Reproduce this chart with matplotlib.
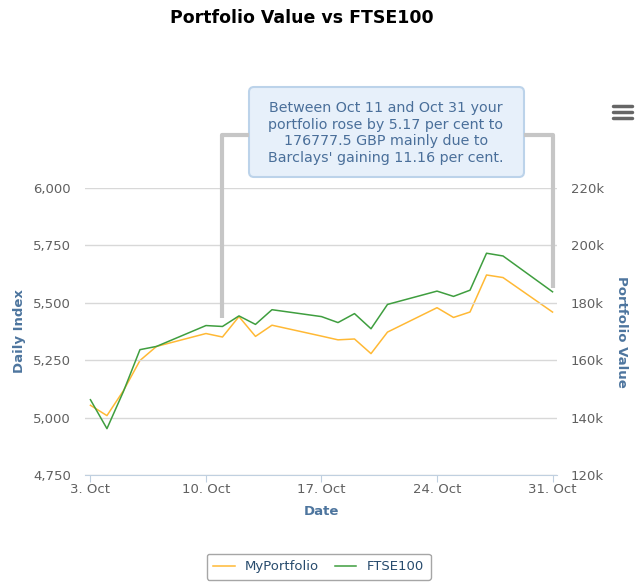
import matplotlib
matplotlib.use("Agg")
import matplotlib.pyplot as plt
import matplotlib.ticker as mticker
from matplotlib.patches import FancyBboxPatch
from matplotlib.lines import Line2D
from matplotlib.transforms import IdentityTransform

# trading days in October (day of month)
days = [3, 4, 5, 6, 7, 10, 11, 12, 13, 14, 17, 18, 19, 20, 21, 24, 25, 26, 27, 28, 31]
ftse = [5078, 4952, 5114, 5296, 5310, 5401, 5397, 5443, 5406, 5470, 5440,
        5414, 5453, 5387, 5493, 5551, 5528, 5555, 5716, 5704, 5548]
portfolio = [144300, 140700, 149400, 159900, 164800, 169300, 168087, 175200,
             168300, 172200, 168400, 167100, 167400, 162300, 169800, 178300,
             174900, 176800, 189700, 188800, 176777.5]
tick_days = [3, 10, 17, 24, 31]
tick_labels = ["3. Oct", "10. Oct", "17. Oct", "24. Oct", "31. Oct"]
note = ("Between Oct 11 and Oct 31 your\nportfolio rose by 5.17 per cent to\n"
        "176777.5 GBP mainly due to\nBarclays' gaining 11.16 per cent.")

orange = "#ffb935"
green = "#3f9e3f"
blue = "#4d759e"
gray_txt = "#606060"

fig = plt.figure(figsize=(6.4, 5.85), dpi=100)
ax = fig.add_axes([0.1328, 0.188, 0.7375, 0.4906])
ax2 = ax.twinx()

l1, = ax2.plot(days, portfolio, color=orange, lw=1.1, label="MyPortfolio")
l2, = ax.plot(days, ftse, color=green, lw=1.1, label="FTSE100")
ax.set_zorder(ax2.get_zorder() + 1)
ax.patch.set_visible(False)

ax.set_xlim(2.67, 31.27)
ax.set_ylim(4750, 6000)
ax2.set_ylim(120000, 220000)
ax.set_yticks(range(4750, 6001, 250))
ax2.set_yticks(range(120000, 220001, 20000))
ax.yaxis.set_major_formatter(mticker.FuncFormatter(lambda v, p: f"{int(v):,}"))
ax2.yaxis.set_major_formatter(mticker.FuncFormatter(lambda v, p: f"{int(v / 1000)}k"))
ax.set_xticks(tick_days)
ax.set_xticklabels(tick_labels)

ax.grid(axis="y", color="#d8d8d8", lw=1)
for a in (ax, ax2):
    for s in a.spines.values():
        s.set_visible(False)
ax.spines["bottom"].set_visible(True)
ax.spines["bottom"].set_color("#c0d0e0")
ax.tick_params(axis="x", colors="#c0d0e0", length=5, labelcolor=gray_txt, labelsize=9.5, pad=1)
ax.tick_params(axis="y", length=0, labelcolor=gray_txt, labelsize=9.5, pad=10)
ax2.tick_params(axis="y", length=0, labelcolor=gray_txt, labelsize=9.5, pad=10)

ax.set_ylabel("Daily Index", color=blue, fontsize=9.5, fontweight="bold", labelpad=5)
ax2.set_ylabel("Portfolio Value", color=blue, fontsize=9.5, fontweight="bold",
               rotation=270, labelpad=17)
ax.set_xlabel("Date", color=blue, fontsize=9.5, fontweight="bold", labelpad=6)

fig.text(302 / 640, 1 - 18 / 585, "Portfolio Value vs FTSE100", ha="center", va="center",
         fontsize=12.5, fontweight="bold", color="black")

# bracket from Oct 11 to Oct 31
top = 6230
ax.plot([11, 11, 12.6], [ftse[6] + 38, top, top], color="#c6c6c6", lw=3,
        clip_on=False, solid_capstyle="butt", zorder=5)
ax.plot([29.27, 31, 31], [top, top, ftse[-1] + 17], color="#c6c6c6", lw=3,
        clip_on=False, solid_capstyle="butt", zorder=5)

box = FancyBboxPatch((249, 585 - 177), 275, 90, boxstyle="round,pad=0,rounding_size=5",
                     transform=IdentityTransform(), facecolor="#e7f0fa",
                     edgecolor="#bcd3ea", lw=1.5)
fig.add_artist(box)
fig.text(386 / 640, 1 - 133 / 585, note, ha="center", va="center", fontsize=10.3,
         color="#4a6f9a", linespacing=1.27)

# menu icon
for yy in (106, 112, 118):
    fig.add_artist(Line2D([613 / 640, 632 / 640], [1 - yy / 585] * 2,
                          transform=fig.transFigure, color="#666666", lw=2.5,
                          solid_capstyle="round"))

leg = fig.legend(handles=[l1, l2], loc="center", bbox_to_anchor=(0.498, 0.031), ncol=2,
                 fontsize=9.5, handlelength=1.6, frameon=True, fancybox=True,
                 edgecolor="#909090", labelcolor="#274b6d", columnspacing=1.2,
                 borderpad=0.5)
leg.get_frame().set_linewidth(1)

fig.savefig("out.png", dpi=100)
